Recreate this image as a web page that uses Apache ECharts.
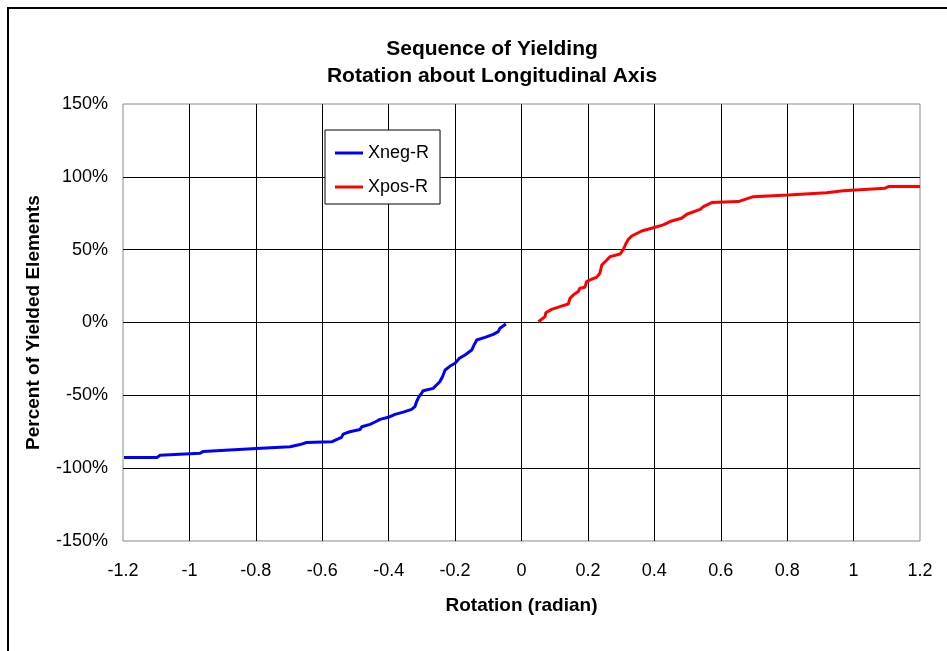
<!DOCTYPE html>
<html>
<head>
<meta charset="utf-8">
<script src="https://cdn.jsdelivr.net/npm/echarts@6/dist/echarts.min.js"></script>
<style>
  html, body { margin: 0; padding: 0; background: #fff; }
  #chart { width: 947px; height: 651px; }
</style>
</head>
<body>
<div id="chart"></div>
<script>
// rotation (radian) vs percent of yielded elements
const xnegX = [-1.197, -1.097, -1.089, -0.968, -0.958, -0.798, -0.697, -0.667, -0.647, -0.572, -0.567, -0.542, -0.537,
  -0.517, -0.486, -0.481, -0.456, -0.441, -0.426, -0.401, -0.381, -0.356, -0.331, -0.321, -0.316, -0.309, -0.301,
  -0.296, -0.266, -0.256, -0.246, -0.238, -0.230, -0.215, -0.200, -0.187, -0.170, -0.150, -0.143, -0.135, -0.110,
  -0.085, -0.070, -0.065, -0.047];
const xnegY = [-92.6, -92.6, -91.2, -89.8, -88.5, -86.5, -85.3, -83.8, -82.4, -81.9, -80.7, -78.9, -76.6,
  -75.0, -73.4, -71.6, -69.9, -68.3, -66.5, -65.1, -63.1, -61.5, -59.6, -57.8, -54.4, -51.0, -48.6,
  -46.8, -45.2, -42.9, -40.7, -37.2, -32.6, -29.9, -28.0, -24.6, -22.3, -18.9, -15.5, -12.0, -10.2,
  -8.1, -6.3, -4.0, -1.0];

const xposX = [0.051, 0.071, 0.073, 0.091, 0.116, 0.141, 0.146, 0.156, 0.171, 0.176, 0.191, 0.196, 0.211, 0.226,
  0.236, 0.242, 0.257, 0.267, 0.297, 0.307, 0.315, 0.322, 0.332, 0.362, 0.392, 0.427, 0.452, 0.482, 0.498,
  0.538, 0.548, 0.573, 0.653, 0.698, 0.804, 0.919, 0.969, 1.095, 1.105, 1.2];
const xposY = [0.5, 4.0, 6.7, 9.0, 10.9, 12.7, 16.6, 18.9, 21.2, 23.5, 24.2, 28.0, 29.7, 31.0,
  33.8, 39.5, 42.9, 45.2, 47.0, 50.3, 54.4, 57.1, 59.4, 62.8, 64.7, 67.0, 69.7, 71.6, 74.3,
  77.6, 79.5, 82.3, 83.0, 86.4, 87.6, 89.1, 90.5, 92.2, 93.3, 93.3];

const pairs = (xs, ys) => xs.map((x, i) => [x, ys[i]]);

const chart = echarts.init(document.getElementById('chart'));
const font = 'Liberation Sans, Arial, sans-serif';

chart.setOption({
  backgroundColor: '#fff',
  animation: false,
  title: {
    text: 'Sequence of Yielding\nRotation about Longitudinal Axis',
    left: 487,
    top: 31,
    textAlign: 'center',
    textStyle: { fontFamily: font, fontSize: 21, fontWeight: 'bold', color: '#000', lineHeight: 27 }
  },
  legend: {
    orient: 'vertical',
    left: 325,
    top: 130,
    padding: [14, 11, 8, 10],
    itemGap: 16,
    itemWidth: 28,
    itemHeight: 3,
    icon: 'rect',
    borderColor: '#000',
    borderWidth: 1,
    backgroundColor: '#fff',
    textStyle: { fontFamily: font, fontSize: 18, color: '#000' },
    data: ['Xneg-R', 'Xpos-R']
  },
  grid: { left: 123, right: 27, top: 104, bottom: 110, show: true, borderColor: '#8a8a8a', borderWidth: 1 },
  xAxis: {
    type: 'value',
    min: -1.2,
    max: 1.2,
    interval: 0.2,
    name: 'Rotation (radian)',
    nameLocation: 'middle',
    nameGap: 55,
    nameTextStyle: { fontFamily: font, fontSize: 19, fontWeight: 'bold', color: '#000' },
    axisLine: { show: false },
    axisTick: { show: false },
    axisLabel: {
      margin: 21,
      fontFamily: font, fontSize: 18, color: '#000',
      formatter: v => String(Math.round(v * 10) / 10)
    },
    splitLine: { show: true, showMinLine: false, showMaxLine: false, lineStyle: { color: '#000', width: 1 } }
  },
  yAxis: {
    type: 'value',
    min: -150,
    max: 150,
    interval: 50,
    name: 'Percent of Yielded Elements',
    nameLocation: 'middle',
    nameGap: 80,
    nameTextStyle: { fontFamily: font, fontSize: 19, fontWeight: 'bold', color: '#000' },
    axisLine: { show: false },
    axisTick: { show: false },
    axisLabel: { margin: 15, fontFamily: font, fontSize: 18, color: '#000', formatter: '{value}%' },
    splitLine: { show: true, showMinLine: false, showMaxLine: false, lineStyle: { color: '#000', width: 1 } }
  },
  series: [
    {
      name: 'Xneg-R', type: 'line', data: pairs(xnegX, xnegY),
      showSymbol: false, symbol: 'none',
      lineStyle: { color: '#0000ff', width: 3 }, itemStyle: { color: '#0000ff' }
    },
    {
      name: 'Xpos-R', type: 'line', data: pairs(xposX, xposY),
      showSymbol: false, symbol: 'none',
      lineStyle: { color: '#ff0000', width: 3 }, itemStyle: { color: '#ff0000' }
    }
  ],
  graphic: [{
    type: 'rect',
    shape: { x: 8, y: 8, width: 960, height: 660 },
    style: { fill: 'none', stroke: '#000', lineWidth: 2 },
    silent: true
  }]
});
</script>
</body>
</html>
